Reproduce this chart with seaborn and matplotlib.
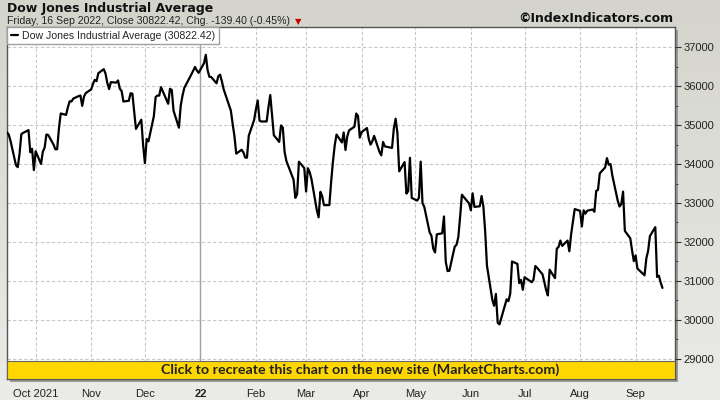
import matplotlib
matplotlib.use("Agg")
import numpy as np
import pandas as pd
import seaborn as sns
import matplotlib.pyplot as plt
from matplotlib.patches import Rectangle
from matplotlib.colors import LinearSegmentedColormap

# daily closes of the Dow
dates = [
    "2021-09-15", "2021-09-16", "2021-09-17", "2021-09-20", "2021-09-21", "2021-09-22", "2021-09-23",
    "2021-09-24", "2021-09-27", "2021-09-28", "2021-09-29", "2021-09-30",
    "2021-10-01", "2021-10-04", "2021-10-05", "2021-10-06", "2021-10-07", "2021-10-08", "2021-10-11",
    "2021-10-12", "2021-10-13", "2021-10-14", "2021-10-15", "2021-10-18", "2021-10-19", "2021-10-20",
    "2021-10-21", "2021-10-22", "2021-10-25", "2021-10-26", "2021-10-27", "2021-10-28", "2021-10-29",
    "2021-11-01", "2021-11-02", "2021-11-03", "2021-11-04", "2021-11-05", "2021-11-08", "2021-11-09",
    "2021-11-10", "2021-11-11", "2021-11-12", "2021-11-15", "2021-11-16", "2021-11-17", "2021-11-18",
    "2021-11-19", "2021-11-22", "2021-11-23", "2021-11-24", "2021-11-26", "2021-11-29", "2021-11-30",
    "2021-12-01", "2021-12-02", "2021-12-03", "2021-12-06", "2021-12-07", "2021-12-08", "2021-12-09",
    "2021-12-10", "2021-12-13", "2021-12-14", "2021-12-15", "2021-12-16", "2021-12-17", "2021-12-20",
    "2021-12-21", "2021-12-22", "2021-12-23", "2021-12-27", "2021-12-28", "2021-12-29", "2021-12-30",
    "2021-12-31",
    "2022-01-03", "2022-01-04", "2022-01-05", "2022-01-06", "2022-01-07", "2022-01-10", "2022-01-11",
    "2022-01-12", "2022-01-13", "2022-01-14", "2022-01-18", "2022-01-19", "2022-01-20", "2022-01-21",
    "2022-01-24", "2022-01-25", "2022-01-26", "2022-01-27", "2022-01-28", "2022-01-31",
    "2022-02-01", "2022-02-02", "2022-02-03", "2022-02-04", "2022-02-07", "2022-02-08", "2022-02-09",
    "2022-02-10", "2022-02-11", "2022-02-14", "2022-02-15", "2022-02-16", "2022-02-17", "2022-02-18",
    "2022-02-22", "2022-02-23", "2022-02-24", "2022-02-25", "2022-02-28",
    "2022-03-01", "2022-03-02", "2022-03-03", "2022-03-04", "2022-03-07", "2022-03-08", "2022-03-09",
    "2022-03-10", "2022-03-11", "2022-03-14", "2022-03-15", "2022-03-16", "2022-03-17", "2022-03-18",
    "2022-03-21", "2022-03-22", "2022-03-23", "2022-03-24", "2022-03-25", "2022-03-28", "2022-03-29",
    "2022-03-30", "2022-03-31",
    "2022-04-01", "2022-04-04", "2022-04-05", "2022-04-06", "2022-04-07", "2022-04-08", "2022-04-11",
    "2022-04-12", "2022-04-13", "2022-04-14", "2022-04-18", "2022-04-19", "2022-04-20", "2022-04-21",
    "2022-04-22", "2022-04-25", "2022-04-26", "2022-04-27", "2022-04-28", "2022-04-29",
    "2022-05-02", "2022-05-03", "2022-05-04", "2022-05-05", "2022-05-06", "2022-05-09", "2022-05-10",
    "2022-05-11", "2022-05-12", "2022-05-13", "2022-05-16", "2022-05-17", "2022-05-18", "2022-05-19",
    "2022-05-20", "2022-05-23", "2022-05-24", "2022-05-25", "2022-05-26", "2022-05-27", "2022-05-31",
    "2022-06-01", "2022-06-02", "2022-06-03", "2022-06-06", "2022-06-07", "2022-06-08", "2022-06-09",
    "2022-06-10", "2022-06-13", "2022-06-14", "2022-06-15", "2022-06-16", "2022-06-17", "2022-06-21",
    "2022-06-22", "2022-06-23", "2022-06-24", "2022-06-27", "2022-06-28", "2022-06-29", "2022-06-30",
    "2022-07-01", "2022-07-05", "2022-07-06", "2022-07-07", "2022-07-08", "2022-07-11", "2022-07-12",
    "2022-07-13", "2022-07-14", "2022-07-15", "2022-07-18", "2022-07-19", "2022-07-20", "2022-07-21",
    "2022-07-22", "2022-07-25", "2022-07-26", "2022-07-27", "2022-07-28", "2022-07-29",
    "2022-08-01", "2022-08-02", "2022-08-03", "2022-08-04", "2022-08-05", "2022-08-08", "2022-08-09",
    "2022-08-10", "2022-08-11", "2022-08-12", "2022-08-15", "2022-08-16", "2022-08-17", "2022-08-18",
    "2022-08-19", "2022-08-22", "2022-08-23", "2022-08-24", "2022-08-25", "2022-08-26", "2022-08-29",
    "2022-08-30", "2022-08-31",
    "2022-09-01", "2022-09-02", "2022-09-06", "2022-09-07", "2022-09-08", "2022-09-09", "2022-09-12",
    "2022-09-13", "2022-09-14", "2022-09-15", "2022-09-16",
]
closes = [
    34814, 34751, 34585, 33970, 33919, 34258, 34765, 34798, 34869, 34300, 34391, 33844,
    34326, 34002, 34315, 34417, 34755, 34746, 34496, 34378, 34377, 34912, 35295, 35259, 35457, 35609,
    35603, 35677, 35741, 35757, 35491, 35731, 35820,
    35913, 36053, 36158, 36124, 36328, 36432, 36320, 36080, 35921, 36100, 36087, 36143, 35931, 35871,
    35602, 35620, 35814, 35805, 34899, 35136, 34484,
    34022, 34640, 34580, 35227, 35719, 35755, 35754, 35971, 35651, 35544, 35927, 35898, 35365, 34932,
    35493, 35754, 35951, 36302, 36398, 36488, 36398, 36338,
    36585, 36800, 36408, 36236, 36232, 36069, 36252, 36290, 36114, 35912, 35369, 35029, 34715, 34265,
    34365, 34298, 34168, 34160, 34725, 35132,
    35405, 35629, 35111, 35089, 35092, 35463, 35768, 35241, 34738, 34566, 34989, 34935, 34312, 34079,
    33597, 33132, 33224, 34059, 33893,
    33294, 33891, 33795, 33615, 32818, 32633, 33287, 33174, 32944, 32946, 33545, 34063, 34481, 34755,
    34553, 34808, 34359, 34708, 34862, 34956, 35294, 35229, 34678,
    34818, 34922, 34642, 34497, 34584, 34721, 34309, 34221, 34565, 34452, 34412, 34912, 35161, 34793,
    33812, 34049, 33241, 33302, 34160, 33131,
    33062, 33129, 34061, 32998, 32900, 32246, 32161, 31834, 31731, 32197, 32223, 32655, 31490, 31254,
    31262, 31880, 31929, 32121, 32638, 33213, 32990,
    32814, 33248, 32900, 32916, 33180, 32911, 32273, 31393, 30517, 30365, 30669, 29927, 29889, 30530,
    30483, 30677, 31501, 31439, 30947, 31029, 30775,
    31097, 30968, 31037, 31385, 31338, 31173, 30982, 30773, 30631, 31289, 31073, 31828, 31875, 32037,
    31900, 32037, 31762, 32198, 32530, 32845,
    32798, 32397, 32813, 32727, 32803, 32833, 32775, 33310, 33337, 33761, 33913, 34152, 33981, 33999,
    33707, 33064, 32910, 32970, 33292, 32283, 32099, 31791, 31510,
    31656, 31319, 31146, 31581, 31775, 32152, 32381, 31105, 31135, 30962, 30822.42,
]

month_ticks = ["2021-10-01", "2021-11-01", "2021-12-01", "2022-01-01", "2022-02-01", "2022-03-01",
               "2022-04-01", "2022-05-01", "2022-06-01", "2022-07-01", "2022-08-01", "2022-09-01"]
month_labels = ["Oct 2021", "Nov", "Dec", "22", "Feb", "Mar", "Apr", "May", "Jun", "Jul", "Aug", "Sep"]
y_ticks = [29000, 30000, 31000, 32000, 33000, 34000, 35000, 36000, 37000]

df = pd.DataFrame({"Date": pd.to_datetime(dates), "Close": closes})

sns.set_style("white")
plt.rcParams["font.family"] = ["DejaVu Sans"]
narrow = ["Liberation Sans", "DejaVu Sans"]

fig = plt.figure(figsize=(7.2, 4), dpi=100)

# grey gradient page background
bg = fig.add_axes([0, 0, 1, 1], zorder=-10)
grad = np.linspace(0, 1, 200).reshape(-1, 1)
bg.imshow(grad, aspect="auto", extent=[0, 1, 0, 1],
          cmap=LinearSegmentedColormap.from_list("bg", ["#d4d4cc", "#ebebe8"]))
bg.axis("off")

# drop shadow of the plot frame
fig.patches.append(Rectangle((10 / 720, 18 / 400), 668 / 720, 352 / 400, transform=fig.transFigure,
                             facecolor="#9a9a96", edgecolor="none", zorder=-5))

ax = fig.add_axes([7 / 720, 21 / 400, 668 / 720, 352 / 400])
ax.set_facecolor("white")

sns.lineplot(data=df, x="Date", y="Close", ax=ax, color="black", linewidth=1.6,
             label="Dow Jones Industrial Average (30822.42)", zorder=3)

ax.set_xlim(pd.Timestamp("2021-09-15"), pd.Timestamp("2022-09-23"))
ax.set_ylim(28487, 37513)
ax.set_xlabel("")
ax.set_ylabel("")

ax.yaxis.tick_right()
ax.set_yticks(y_ticks)
ax.set_yticks([t + 500 for t in y_ticks[:-1]], minor=True)
ax.tick_params(axis="y", which="major", length=4, direction="out", pad=2, labelsize=8,
               color="#333333", labelcolor="#222222", right=True)
ax.tick_params(axis="y", which="minor", length=2, direction="out", color="#333333", right=True)

ax.set_xticks(pd.to_datetime(month_ticks))
ax.set_xticklabels(month_labels)
ax.tick_params(axis="x", length=0, pad=7, labelsize=8, labelcolor="#222222")
for lbl in ax.get_xticklabels() + ax.get_yticklabels():
    lbl.set_family(narrow)
    if lbl.get_text() == "22":
        lbl.set_fontweight("bold")

ax.grid(True, which="major", linestyle=(0, (3, 2)), color="#c8c8c8", linewidth=0.8)
ax.axvline(pd.Timestamp("2022-01-01"), color="#a0a0a0", linewidth=1, zorder=1)

for sp in ax.spines.values():
    sp.set_color("#555555")
    sp.set_linewidth(1)

leg = ax.legend(loc="upper left", borderaxespad=0, frameon=True, fancybox=False,
                edgecolor="#a0a0a0", handlelength=0.7, handletextpad=0.4,
                borderpad=0.35, framealpha=1, prop={"family": narrow, "size": 7.6})
leg.get_frame().set_linewidth(1)

# yellow banner at the bottom of the plot
ax.add_patch(Rectangle((0, 0), 1, 18 / 352, transform=ax.transAxes, facecolor="#ffd700",
                       edgecolor="#666666", linewidth=0.8, zorder=5))
ax.text(0.528, 9.5 / 352, "Click to recreate this chart on the new site (MarketCharts.com)",
        transform=ax.transAxes, ha="center", va="center", fontsize=10.3, fontweight="bold",
        color="#222222", zorder=6, family=["Lato", "DejaVu Sans"])

fig.text(7 / 720, 1 - 8.5 / 400, "Dow Jones Industrial Average", fontsize=9, fontweight="bold",
         va="center", color="#111111")
sub = fig.text(7 / 720, 1 - 20.5 / 400, "Friday, 16 Sep 2022, Close 30822.42, Chg. -139.40 (-0.45%)",
               fontsize=7.6, va="center", color="#222222", family=narrow)
fig.text(673 / 720, 1 - 19 / 400, "©IndexIndicators.com", fontsize=9, fontweight="bold",
         ha="right", va="center", color="#111111")

fig.canvas.draw()
bb = sub.get_window_extent()
fig.text((bb.x1 + 8) / 720, 1 - 21.5 / 400, "▼", fontsize=6, color="#cc0000", ha="center", va="center")

fig.savefig("out.png", dpi=100)
